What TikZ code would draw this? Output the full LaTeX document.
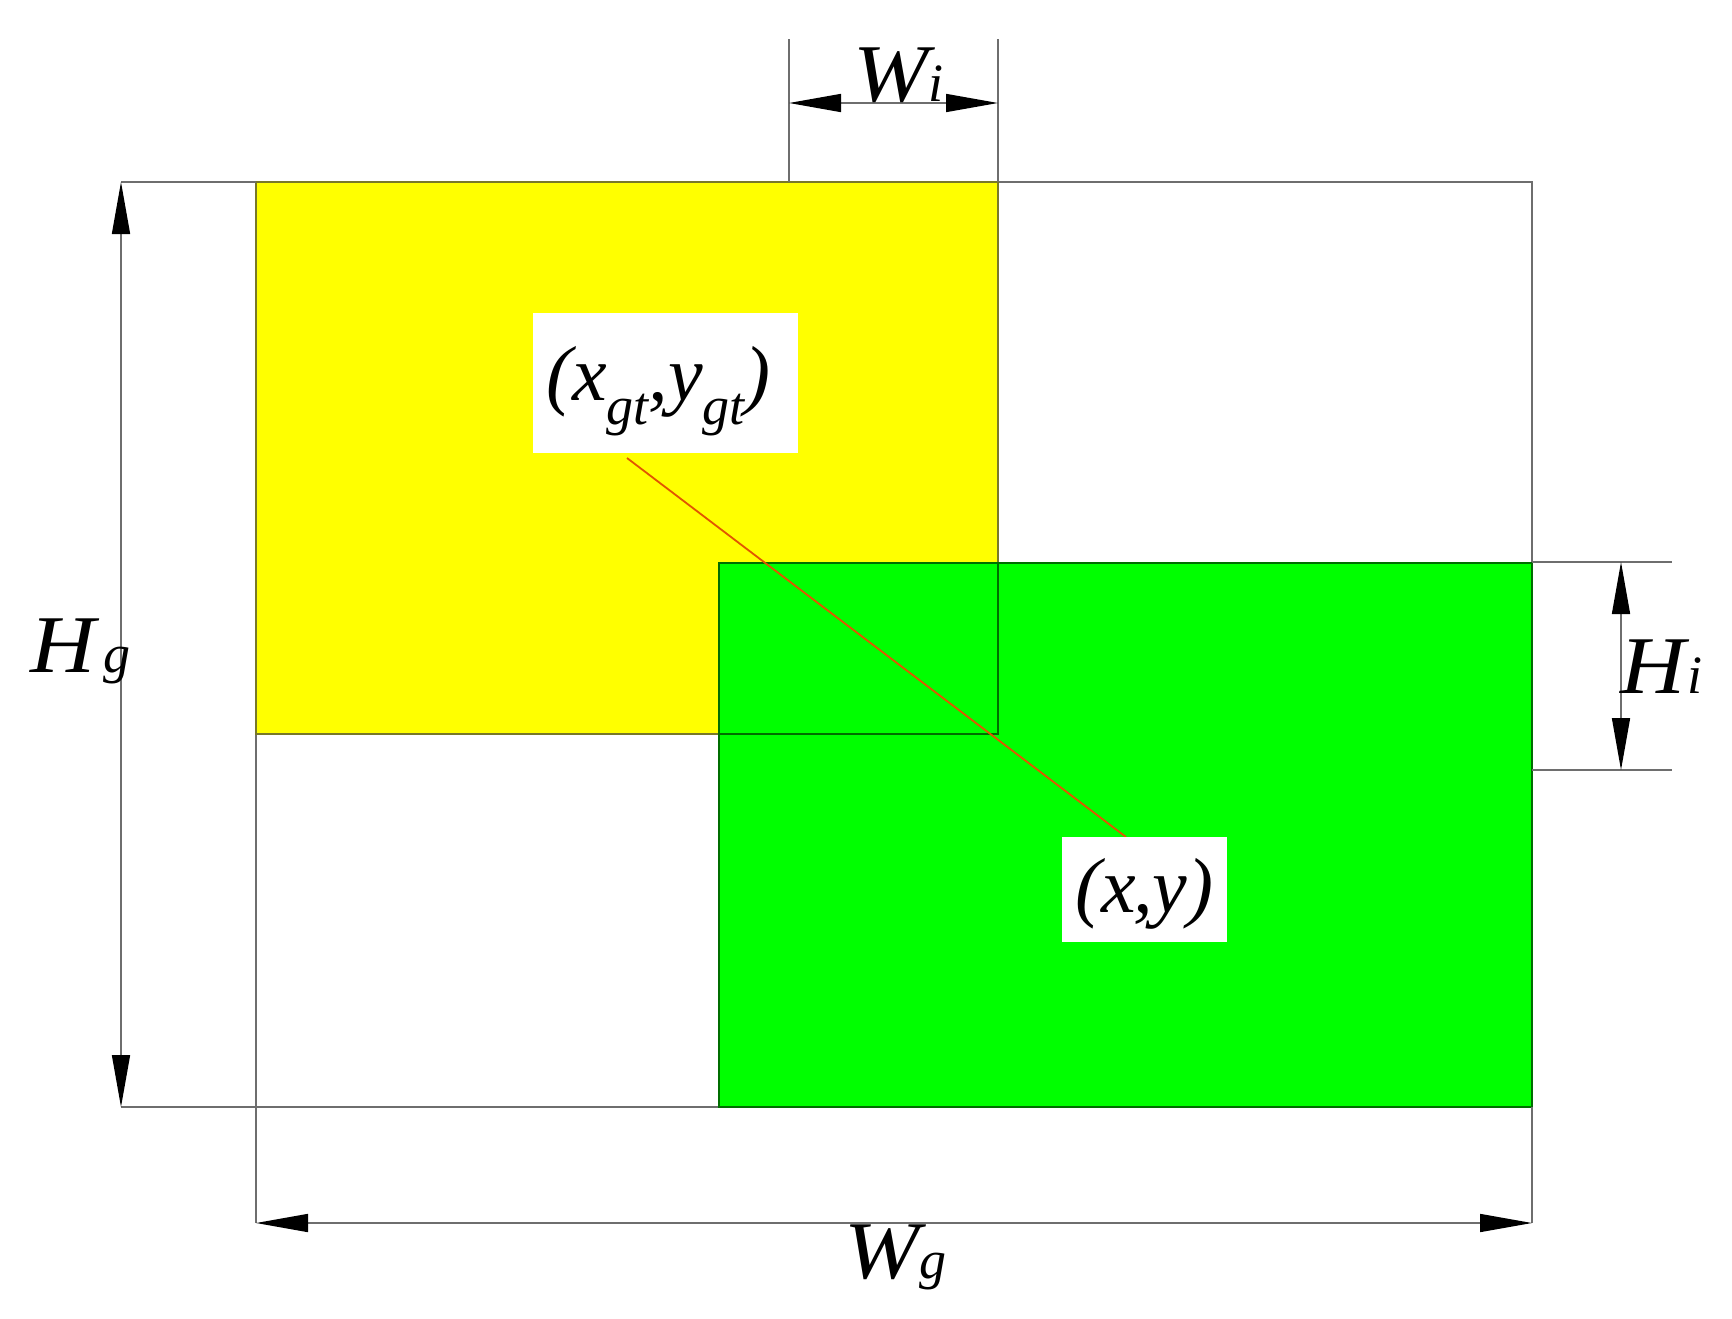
\documentclass[tikz,border=0pt]{standalone}
\usepackage{fontspec}
\setmainfont{Liberation Serif}
\usetikzlibrary{arrows.meta}
\definecolor{dimgray}{RGB}{110,110,110}
\definecolor{ybord}{RGB}{120,120,40}
\definecolor{gbord}{RGB}{0,110,0}
\definecolor{redline}{RGB}{225,85,0}
\newcommand\BigLab{\fontsize{78}{80}\selectfont\itshape}
\newcommand\DimLab{\fontsize{82}{84}\selectfont\itshape}
\newcommand\SmLab{\fontsize{54}{56}\selectfont\itshape}
\newcommand\WideBox[1]{\scalebox{1.1}[1]{#1}}
\begin{document}
\begin{tikzpicture}[x=1pt,y=-1pt,
  thin/.style={draw=dimgray,line width=1.6pt},
  dimtip/.tip={Triangle[length=52pt,width=18pt,color=black]},
  dimline/.style={draw=dimgray,line width=1.6pt,dimtip-dimtip},
  lab/.style={inner sep=0pt,text=black},
  whitebox/.style={fill=white,inner sep=0pt,text=black,align=center}]
\useasboundingbox (0,0) rectangle (1732,1319);
% named corners
\coordinate (A) at (256,182);   % outer top-left
\coordinate (B) at (1532,182);  % outer top-right
\coordinate (C) at (1532,1107); % outer bottom-right
\coordinate (D) at (256,1107);  % outer bottom-left
% outer frame
\draw[thin] (A) rectangle (C);
% yellow box
\filldraw[fill={rgb,255:red,255;green,255;blue,0},draw=ybord,line width=1.6pt] (256,182) rectangle (998,734);
% green box
\filldraw[fill={rgb,255:red,0;green,255;blue,0},draw=gbord,line width=1.6pt] (719,563) rectangle (1532,1107);
% overlap outline
\draw[draw=gbord,line width=1.6pt] (719,563) rectangle (998,734);
% extension lines
\coordinate (hgT) at (121,182);
\coordinate (hgB) at (121,1107);
\draw[thin] (hgT) -- (A);
\draw[thin] (hgB) -- (D);
\coordinate (wiL0) at (789,182);
\coordinate (wiL) at (789,39);
\coordinate (wiR0) at (998,182);
\coordinate (wiR) at (998,39);
\draw[thin] (wiL0) -- (wiL);
\draw[thin] (wiR0) -- (wiR);
\coordinate (hiT0) at (1532,562);
\coordinate (hiT) at (1672,562);
\coordinate (hiB0) at (1532,770);
\coordinate (hiB) at (1672,770);
\draw[thin] (hiT0) -- (hiT);
\draw[thin] (hiB0) -- (hiB);
\coordinate (wgL) at (256,1223);
\coordinate (wgR) at (1532,1223);
\draw[thin] (D) -- (wgL);
\draw[thin] (C) -- (wgR);
% dimension lines
\coordinate (wiA) at (789,103);
\coordinate (wiB) at (998,103);
\draw[dimline] (wiA) -- (wiB);
\coordinate (hiA) at (1621,562);
\coordinate (hiB2) at (1621,770);
\draw[dimline] (hiA) -- (hiB2);
\draw[dimline] (hgT) -- (hgB);
\draw[dimline] (wgL) -- (wgR);
% red line
\coordinate (r1) at (627,458);
\coordinate (r2) at (1126,837);
\draw[draw=redline,line width=1.8pt] (r1) -- (r2);
% label boxes
\node[whitebox,anchor=base,text width=265pt,text height=87pt,text depth=53pt] (gt) at (665.5,400)
  {\BigLab(x\raisebox{-24pt}{\SmLab gt},y\raisebox{-24pt}{\SmLab gt})\hspace*{14pt}};
\node[whitebox,anchor=base,text width=165pt,text height=75pt,text depth=30pt] (xy) at (1144.5,912)
  {\BigLab(x\hspace{-3pt},y)};
% dimension labels
\node[lab,anchor=base west] (hg) at (30,672) {\WideBox{\DimLab H}\hspace{8pt}\SmLab g};
\node[lab,anchor=base west] (wi) at (853,102) {\WideBox{\DimLab W}\hspace{0pt}\SmLab i};
\node[lab,anchor=base west] (hi) at (1620,693) {\WideBox{\DimLab H}\hspace{2pt}\SmLab i};
\node[lab,anchor=base west] (wg) at (844,1278) {\WideBox{\DimLab W}\hspace{0pt}\SmLab g};
\end{tikzpicture}
\end{document}
